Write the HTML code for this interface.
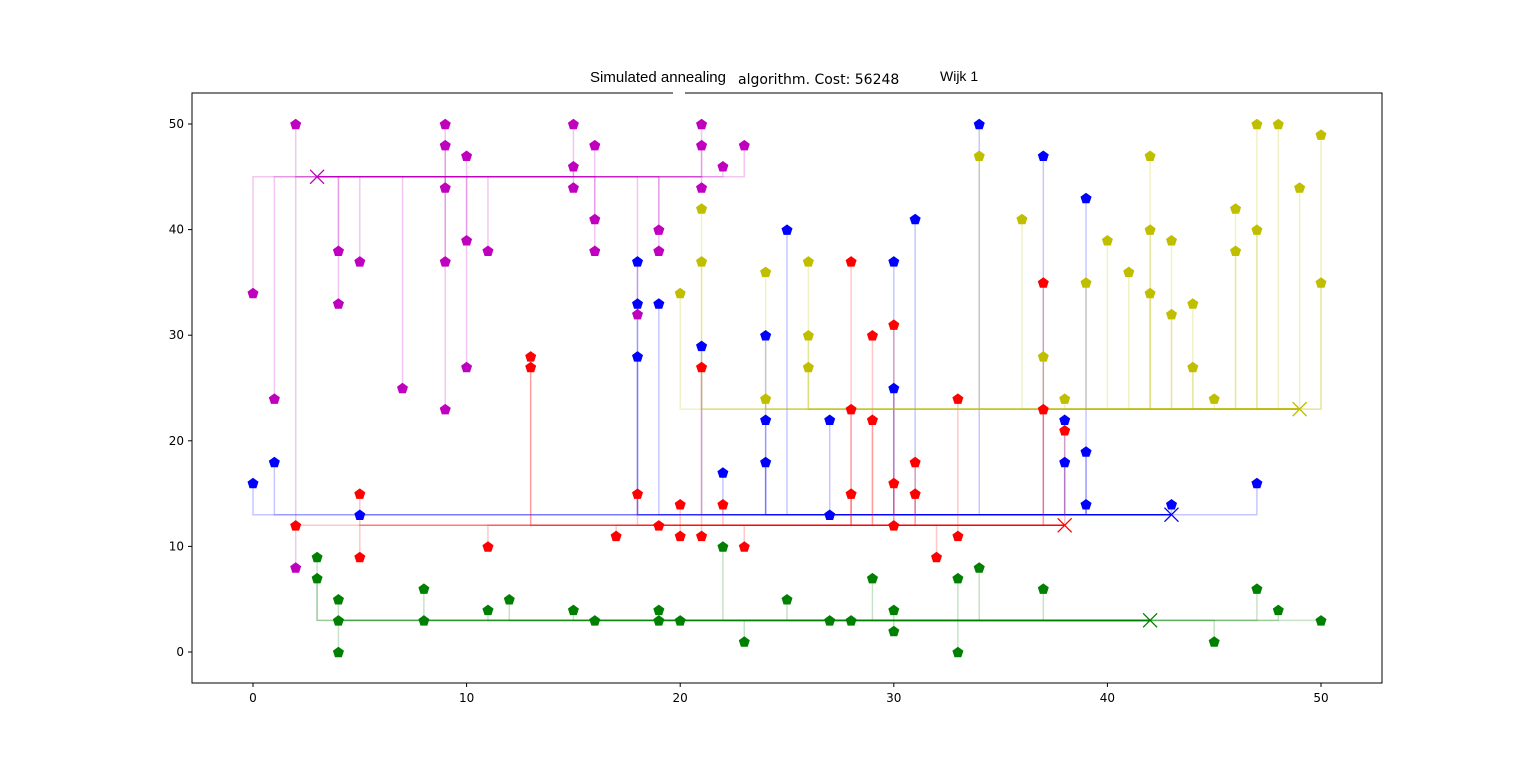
<!DOCTYPE html>
<html><head><meta charset="utf-8"><style>
html,body{margin:0;padding:0;background:#fff;}
svg{display:block;font-family:"DejaVu Sans","Liberation Sans",sans-serif;}
</style></head><body>
<svg id="chart" width="1536" height="767" viewBox="0 0 1536 767">
<rect x="0" y="0" width="1536" height="767" fill="#fff"/>
<g id="marks"></g>
<rect x="192" y="93" width="1190" height="590" fill="none" stroke="#000" stroke-width="1"/>
<g id="ticks"></g>
<rect x="582" y="66" width="150" height="26" fill="#fff"/>
<rect x="673" y="90" width="12" height="6" fill="#fff"/>
<text x="658" y="82" font-size="15" text-anchor="middle" font-family="Liberation Sans, sans-serif">Simulated annealing</text>
<text x="738" y="84" font-size="14">algorithm. Cost: 56248</text>
<text x="940" y="81" font-size="14" font-family="Liberation Sans, sans-serif">Wijk 1</text>
</svg>
<script>
const xTicks=[0,10,20,30,40,50];
const yTicks=[0,10,20,30,40,50];
const colors=['#bf00bf','#0000ff','#ff0000','#bfbf00','#008000'];
const batteries=[[3,45],[43,13],[38,12],[49,23],[42,3]];
const housesMagenta=[[0,34],[1,24],[2,50],[2,8],[4,38],[4,33],[5,37],[7,25],[9,50],[9,48],[9,44],[9,37],[9,23],[10,47],[10,39],[10,27],[11,38],[15,50],[15,46],[15,44],[16,48],[16,41],[16,38],[18,32],[19,40],[19,38],[21,50],[21,48],[21,44],[22,46],[23,48]];
const housesBlue=[[0,16],[1,18],[5,13],[18,37],[18,33],[18,28],[19,33],[21,29],[22,17],[24,30],[24,22],[24,18],[25,40],[27,22],[27,13],[30,37],[30,25],[31,41],[34,50],[37,47],[38,22],[38,18],[39,43],[39,19],[39,14],[43,14],[47,16]];
const housesRed=[[2,12],[5,15],[5,9],[11,10],[13,28],[13,27],[17,11],[18,15],[19,12],[20,14],[20,11],[21,27],[21,11],[22,14],[23,10],[28,37],[28,23],[28,15],[29,30],[29,22],[30,31],[30,16],[30,12],[31,18],[31,15],[32,9],[33,24],[33,11],[37,35],[37,23],[38,21]];
const housesYellow=[[20,34],[21,42],[21,37],[24,36],[24,24],[26,37],[26,30],[26,27],[34,47],[36,41],[37,28],[38,24],[39,35],[40,39],[41,36],[42,47],[42,40],[42,34],[43,39],[43,32],[44,33],[44,27],[45,24],[46,42],[46,38],[47,50],[47,40],[48,50],[49,44],[50,49],[50,35]];
const housesGreen=[[3,9],[3,7],[4,5],[4,3],[4,0],[8,6],[8,3],[11,4],[12,5],[15,4],[16,3],[19,4],[19,3],[20,3],[22,10],[23,1],[25,5],[27,3],[28,3],[29,7],[30,4],[30,2],[33,7],[33,0],[34,8],[37,6],[45,1],[47,6],[48,4],[50,3]];
const groups=[housesMagenta,housesBlue,housesRed,housesYellow,housesGreen];
const groupNames=['magenta','blue','red','yellow','green'];
const sx=v=>253+v*(1321-253)/50;
const sy=v=>652-v*(652-124)/50;
const NS='http://www.w3.org/2000/svg';
const marks=document.getElementById('marks');
function pent(cx,cy,r){let p=[];for(let i=0;i<5;i++){const a=-Math.PI/2+i*2*Math.PI/5;p.push((cx+r*Math.cos(a)).toFixed(1)+','+(cy+r*Math.sin(a)).toFixed(1));}return p.join(' ');}
const lineLayer=document.createElementNS(NS,'g');marks.appendChild(lineLayer);
const ptLayer=document.createElementNS(NS,'g');marks.appendChild(ptLayer);
groups.forEach((hs,gi)=>{
  const [bx,by]=batteries[gi];const c=colors[gi];
  hs.forEach(h=>{
    const l=document.createElementNS(NS,'polyline');
    l.setAttribute('points',`${sx(bx)},${sy(by)} ${sx(h[0])},${sy(by)} ${sx(h[0])},${sy(h[1])}`);
    l.setAttribute('fill','none');l.setAttribute('stroke',c);l.setAttribute('stroke-opacity','0.22');l.setAttribute('stroke-width','1.5');
    
    
    lineLayer.appendChild(l);
    const p=document.createElementNS(NS,'polygon');
    p.setAttribute('points',pent(sx(h[0]),sy(h[1])+0.6,5.8));p.setAttribute('fill',c);
    
    
    ptLayer.appendChild(p);
  });
  const X=document.createElementNS(NS,'path');const x=sx(bx),y=sy(by),s=7;
  X.setAttribute('d',`M${x-s},${y-s}L${x+s},${y+s}M${x-s},${y+s}L${x+s},${y-s}`);
  X.setAttribute('stroke',c);X.setAttribute('stroke-width','1.3');
  
  
  ptLayer.appendChild(X);
});
const tk=document.getElementById('ticks');
xTicks.forEach(v=>{
  const l=document.createElementNS(NS,'line');l.setAttribute('x1',sx(v));l.setAttribute('x2',sx(v));l.setAttribute('y1',683);l.setAttribute('y2',687);l.setAttribute('stroke','#000');
  
  
  tk.appendChild(l);
  const t=document.createElementNS(NS,'text');t.setAttribute('x',sx(v));t.setAttribute('y',702);t.setAttribute('font-size','12');t.setAttribute('text-anchor','middle');t.textContent=v;
  
  
  tk.appendChild(t);
});
yTicks.forEach(v=>{
  const l=document.createElementNS(NS,'line');l.setAttribute('x1',188);l.setAttribute('x2',192);l.setAttribute('y1',sy(v));l.setAttribute('y2',sy(v));l.setAttribute('stroke','#000');
  
  
  tk.appendChild(l);
  const t=document.createElementNS(NS,'text');t.setAttribute('x',184);t.setAttribute('y',sy(v)+4);t.setAttribute('font-size','12');t.setAttribute('text-anchor','end');t.textContent=v;
  
  
  tk.appendChild(t);
});
</script>
</body></html>
